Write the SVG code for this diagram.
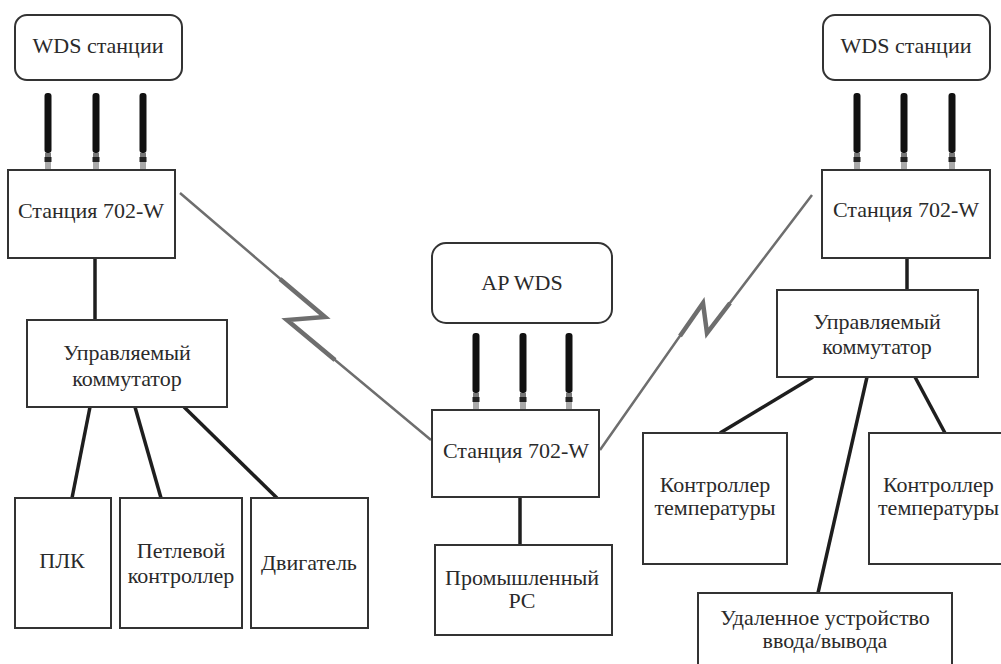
<svg xmlns="http://www.w3.org/2000/svg" xmlns:xlink="http://www.w3.org/1999/xlink" width="1001" height="664" viewBox="0 0 1001 664">
<style>
.box{fill:#fff;stroke:#333;stroke-width:2}
.t{font-family:"Liberation Serif","Times New Roman",serif;font-size:22px;fill:#2a2a2a;text-anchor:middle}
.ts{font-family:"Liberation Serif","Times New Roman",serif;font-size:22px;fill:#2a2a2a;text-anchor:start}
.wire{stroke:#1e1e1e;stroke-width:3.5;fill:none;stroke-linecap:butt}
.bolt{stroke:#6e6e6e;fill:none;stroke-linejoin:miter;stroke-miterlimit:10}
</style>
<defs>
<g id="ant">
<rect x="-3.5" y="0" width="7" height="60" rx="3" fill="#111"/>
<rect x="-3" y="60" width="6" height="4" fill="#777"/>
<rect x="-3.5" y="64" width="7" height="5" fill="#222"/>
<rect x="-3" y="69" width="6" height="8" fill="#aaa"/>
</g>
</defs>
<rect width="1001" height="664" fill="#fff"/>

<g id="connectors">
<line class="wire" x1="95" y1="258" x2="95" y2="320"/>
<line class="wire" x1="90" y1="407" x2="72" y2="498"/>
<line class="wire" x1="135" y1="407" x2="161" y2="498"/>
<line class="wire" x1="184" y1="407" x2="277" y2="498"/>
<line class="wire" x1="520" y1="497" x2="520" y2="545"/>
<line class="wire" x1="907" y1="258" x2="907" y2="290"/>
<line class="wire" x1="813" y1="377" x2="720" y2="433"/>
<line class="wire" x1="867" y1="377" x2="818" y2="593"/>
<line class="wire" x1="915" y1="377" x2="945" y2="433"/>
<polyline class="bolt" stroke-width="2.5" points="180,193 325,317 287,320 431,440"/>
<polyline class="bolt" stroke-width="4.5" points="280,279 325,317 287,320 335,360"/>
<polyline class="bolt" stroke-width="2.5" points="812,195 707,333 703,303 600,450"/>
<polyline class="bolt" stroke-width="4.5" points="730,303 707,333 703,303 680,336"/>
</g>

<g id="wds-left">
<rect class="box" x="15" y="15" width="167" height="65" rx="12"/>
<text class="t" x="98" y="53">WDS станции</text>
<use xlink:href="#ant" x="48" y="93"/>
<use xlink:href="#ant" x="96" y="93"/>
<use xlink:href="#ant" x="143" y="93"/>
</g>
<g id="station-left">
<rect class="box" x="8" y="170" width="167" height="88"/>
<text class="t" x="91" y="218">Станция 702-W</text>
</g>
<g id="switch-left">
<rect class="box" x="27" y="320" width="200" height="87"/>
<text class="t" x="127" y="360">Управляемый</text>
<text class="t" x="127" y="386">коммутатор</text>
</g>
<g id="plc">
<rect class="box" x="15" y="498" width="96" height="130"/>
<text class="t" x="62" y="568">ПЛК</text>
</g>
<g id="loop">
<rect class="box" x="120" y="498" width="122" height="130"/>
<text class="t" x="181" y="558">Петлевой</text>
<text class="t" x="181" y="583">контроллер</text>
</g>
<g id="motor">
<rect class="box" x="251" y="498" width="117" height="130"/>
<text class="t" x="309" y="570">Двигатель</text>
</g>

<g id="ap-wds">
<rect class="box" x="432" y="243" width="180" height="80" rx="14"/>
<text class="t" x="522" y="290">AP WDS</text>
<use xlink:href="#ant" x="476" y="333"/>
<use xlink:href="#ant" x="523" y="333"/>
<use xlink:href="#ant" x="569" y="333"/>
</g>
<g id="station-center">
<rect class="box" x="432" y="410" width="167" height="87"/>
<text class="t" x="516" y="458">Станция 702-W</text>
</g>
<g id="pc">
<rect class="box" x="435" y="545" width="177" height="90"/>
<text class="t" x="522" y="585">Промышленный</text>
<text class="t" x="522" y="608">PC</text>
</g>

<g id="wds-right">
<rect class="box" x="823" y="15" width="167" height="65" rx="12"/>
<text class="t" x="906" y="53">WDS станции</text>
<use xlink:href="#ant" x="857" y="93"/>
<use xlink:href="#ant" x="904" y="93"/>
<use xlink:href="#ant" x="952" y="93"/>
</g>
<g id="station-right">
<rect class="box" x="822" y="170" width="168" height="88"/>
<text class="t" x="906" y="217">Станция 702-W</text>
</g>
<g id="switch-right">
<rect class="box" x="777" y="290" width="201" height="87"/>
<text class="t" x="877" y="329">Управляемый</text>
<text class="t" x="877" y="354">коммутатор</text>
</g>
<g id="temp-left">
<rect class="box" x="643" y="433" width="144" height="131"/>
<text class="t" x="715" y="492">Контроллер</text>
<text class="t" x="715" y="515">температуры</text>
</g>
<g id="temp-right">
<rect class="box" x="869" y="433" width="145" height="131"/>
<text class="ts" x="883" y="492">Контроллер</text>
<text class="ts" x="878" y="515">температуры</text>
</g>
<g id="remote-io">
<rect class="box" x="698" y="593" width="254" height="80"/>
<text class="t" x="825" y="625">Удаленное устройство</text>
<text class="t" x="825" y="648">ввода/вывода</text>
</g>
</svg>
